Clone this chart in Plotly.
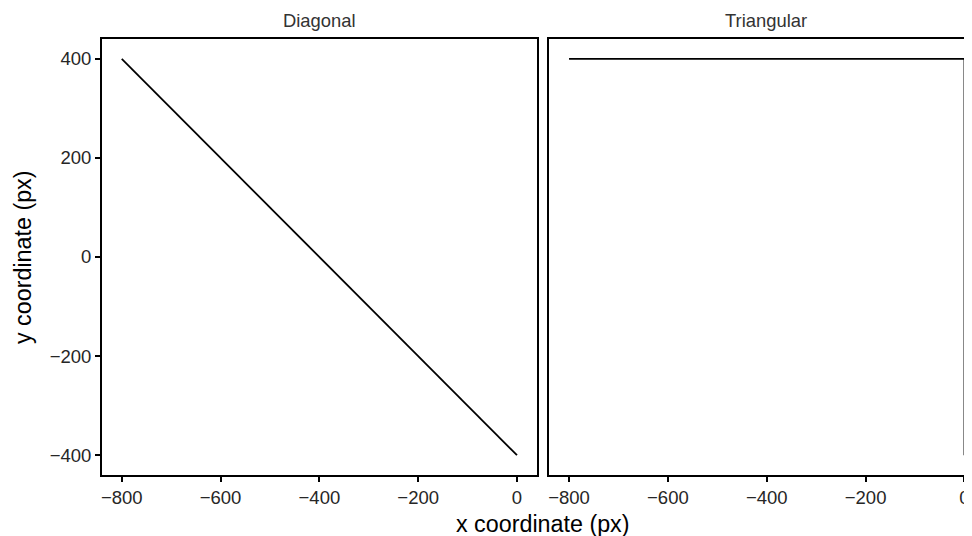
import plotly.graph_objects as go

# ---- data ----
diag_x = [-800, 0]
diag_y = [400, -400]
tri_x = [-800, 0, 0]
tri_y = [400, 400, -400]

x_tickvals = [-800, -600, -400, -200, 0]
x_ticktext = ["\u2212800", "\u2212600", "\u2212400", "\u2212200", "0"]
y_tickvals = [-400, -200, 0, 200, 400]
y_ticktext = ["\u2212400", "\u2212200", "0", "200", "400"]

panel_titles = ["Diagonal", "Triangular"]
x_title = "x coordinate (px)"
y_title = "y coordinate (px)"

FONT = "Liberation Sans, Arial, Helvetica, sans-serif"
LW = 1.8
TICKFONT = dict(family=FONT, size=18.5, color="#262626")

fig = go.Figure()
fig.add_trace(go.Scatter(x=diag_x, y=diag_y, mode="lines",
                         line=dict(color="black", width=LW),
                         xaxis="x", yaxis="y", showlegend=False, hoverinfo="skip"))
fig.add_trace(go.Scatter(x=tri_x, y=tri_y, mode="lines",
                         line=dict(color="black", width=LW),
                         xaxis="x2", yaxis="y2", showlegend=False, hoverinfo="skip"))

axis_common = dict(showline=True, linecolor="black", linewidth=LW,
                   showgrid=False, zeroline=False,
                   ticks="outside", ticklen=5, tickwidth=LW, tickcolor="black",
                   tickfont=TICKFONT, fixedrange=True)

# page body has an 8px margin; figure is sized to fill the rest of the window
fig.update_layout(
    width=964, height=528,
    margin=dict(l=94, r=0, t=31, b=61),
    paper_bgcolor="white", plot_bgcolor="white",
    xaxis=dict(domain=[0, 0.4997], range=[-840, 40], anchor="y", mirror=True,
               tickvals=x_tickvals, ticktext=x_ticktext, **axis_common),
    yaxis=dict(domain=[0, 1], range=[-440, 440], anchor="x", mirror=True,
               tickvals=y_tickvals, ticktext=y_ticktext, **axis_common),
    xaxis2=dict(domain=[0.5141, 1], range=[-840, 15.3], anchor="y2", mirror=True,
                tickvals=x_tickvals, ticktext=x_ticktext, **axis_common),
    yaxis2=dict(domain=[0, 1], range=[-440, 440], anchor="x2",
                showline=True, linecolor="black", linewidth=LW, mirror=False,
                showgrid=False, zeroline=False, showticklabels=False, ticks="",
                fixedrange=True),
    annotations=[
        dict(text=panel_titles[0], x=0.2497, y=1.0413, xref="paper", yref="paper",
             xanchor="center", yanchor="middle", showarrow=False,
             font=dict(family=FONT, size=18.4, color="#333333")),
        dict(text=panel_titles[1], x=0.7637, y=1.0413, xref="paper", yref="paper",
             xanchor="center", yanchor="middle", showarrow=False,
             font=dict(family=FONT, size=18.4, color="#333333")),
        dict(text=x_title, x=0.5066, y=-0.1124, xref="paper", yref="paper",
             xanchor="center", yanchor="middle", showarrow=False,
             font=dict(family=FONT, size=23.3, color="black")),
        dict(text=y_title, x=-0.0908, y=0.5, xref="paper", yref="paper",
             xanchor="center", yanchor="middle", showarrow=False, textangle=-90,
             font=dict(family=FONT, size=23.3, color="black")),
    ],
)

fig.write_html("out.html")
